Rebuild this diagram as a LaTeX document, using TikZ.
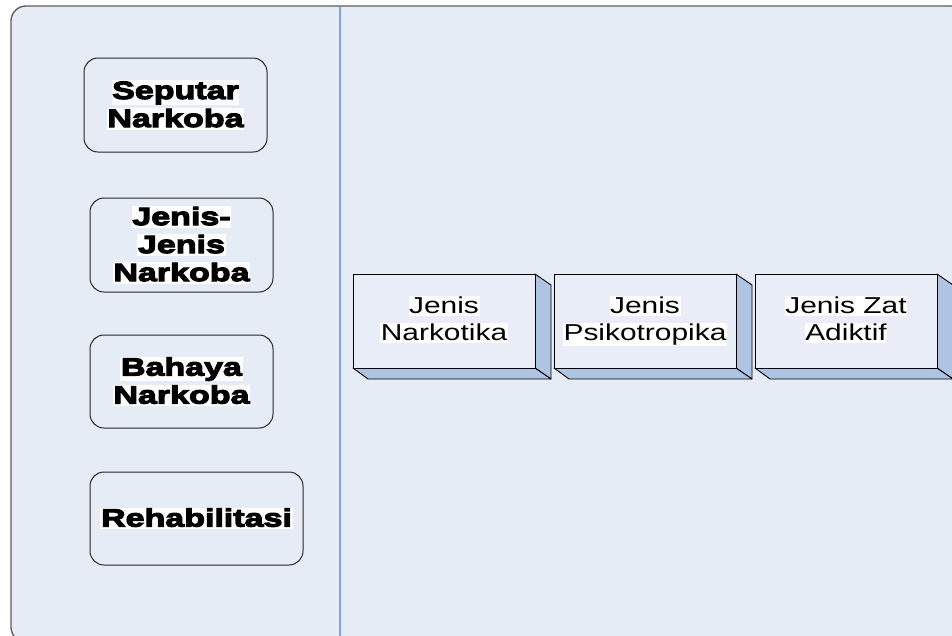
\documentclass[tikz,border=0pt]{standalone}
\usepackage{fontspec}
\usetikzlibrary{calc}
\setmainfont{Liberation Sans}
\newfontfamily\heavyfont[FakeStretch=1.36,FakeBold=4.5]{Liberation Sans Bold}
\newfontfamily\plainfont[FakeStretch=1.3]{Liberation Sans}
\definecolor{panelbg}{HTML}{E6ECF6}
\definecolor{framegray}{HTML}{5A5A5A}
\definecolor{divider}{HTML}{7FA3DB}
\definecolor{cubeside}{HTML}{AFC3E3}
\definecolor{cubefront}{HTML}{E8EDF7}
% white highlight behind each line of text
\newcommand\hl[1]{{\setlength{\fboxsep}{0.6pt}\colorbox{white}{\rule[-0.08em]{0pt}{0.8em}#1}}}
% last line of a label: same depth whether or not it has descenders
\newcommand\hlend[1]{\hl{#1}\rule[-0.25em]{0pt}{0pt}}
\begin{document}
\begin{tikzpicture}[x=1pt,y=-1pt,
  menubox/.style={draw=black!85, line width=1pt, rounded corners=14pt,
    fill=panelbg, inner sep=0pt, align=center,
    font=\heavyfont\fontsize{25}{28}\selectfont},
  cubefacefront/.style={draw=black, line width=0.9pt, fill=cubefront,
    minimum width=182pt, minimum height=94pt, inner sep=0pt, align=center,
    font=\plainfont\fontsize{23}{27}\selectfont},
  cubeface/.style={draw=black, line width=0.9pt, fill=cubeside, line join=round}]
\useasboundingbox (0,0) rectangle (952,635);
\begin{scope}
\clip (0,0) rectangle (952,635);
% outer panel
\draw[framegray, line width=1.3pt, fill=panelbg, rounded corners=15pt]
  (11,6) rectangle (966,642);
% divider line
\draw[divider, line width=1.3pt] (340,6.6) -- (340,640);

% menu boxes on the left
\node[menubox, minimum width=183pt, minimum height=94pt] (seputar) at (175.5,105)
  {\hl{Seputar}\\\hl{Narkoba}};
\node[menubox, minimum width=183pt, minimum height=94pt] (jenis) at (181.5,245)
  {\hl{Jenis-}\\\hl{Jenis}\\\hl{Narkoba}};
\node[menubox, minimum width=183pt, minimum height=93pt] (bahaya) at (181.5,381.5)
  {\hl{Bahaya}\\\hl{Narkoba}};
\node[menubox, minimum width=213pt, minimum height=93pt] (rehab) at (196.5,518.5)
  {\hl{Rehabilitasi}};

% cube-shaped boxes on the right
\foreach \nm/\cx/\txt in {narkotika/444/{\hl{Jenis}\\\hlend{Narkotika}},
                          psiko/645/{\hl{Jenis}\\\hlend{Psikotropika}},
                          zat/846/{\hl{Jenis Zat}\\\hlend{Adiktif}}}{
  \coordinate (\nm c) at (\cx,321);
  \draw[cubeface] ($(\nm c)+(91,-47)$) -- ($(\nm c)+(107,-36)$)
     -- ($(\nm c)+(107,58)$) -- ($(\nm c)+(91,47)$) -- cycle;
  \draw[cubeface] ($(\nm c)+(-91,47)$) -- ($(\nm c)+(91,47)$)
     -- ($(\nm c)+(107,58)$) -- ($(\nm c)+(-76,58)$) -- cycle;
  \node[cubefacefront] (\nm) at (\nm c) {\txt};
}
\end{scope}
\end{tikzpicture}
\end{document}
